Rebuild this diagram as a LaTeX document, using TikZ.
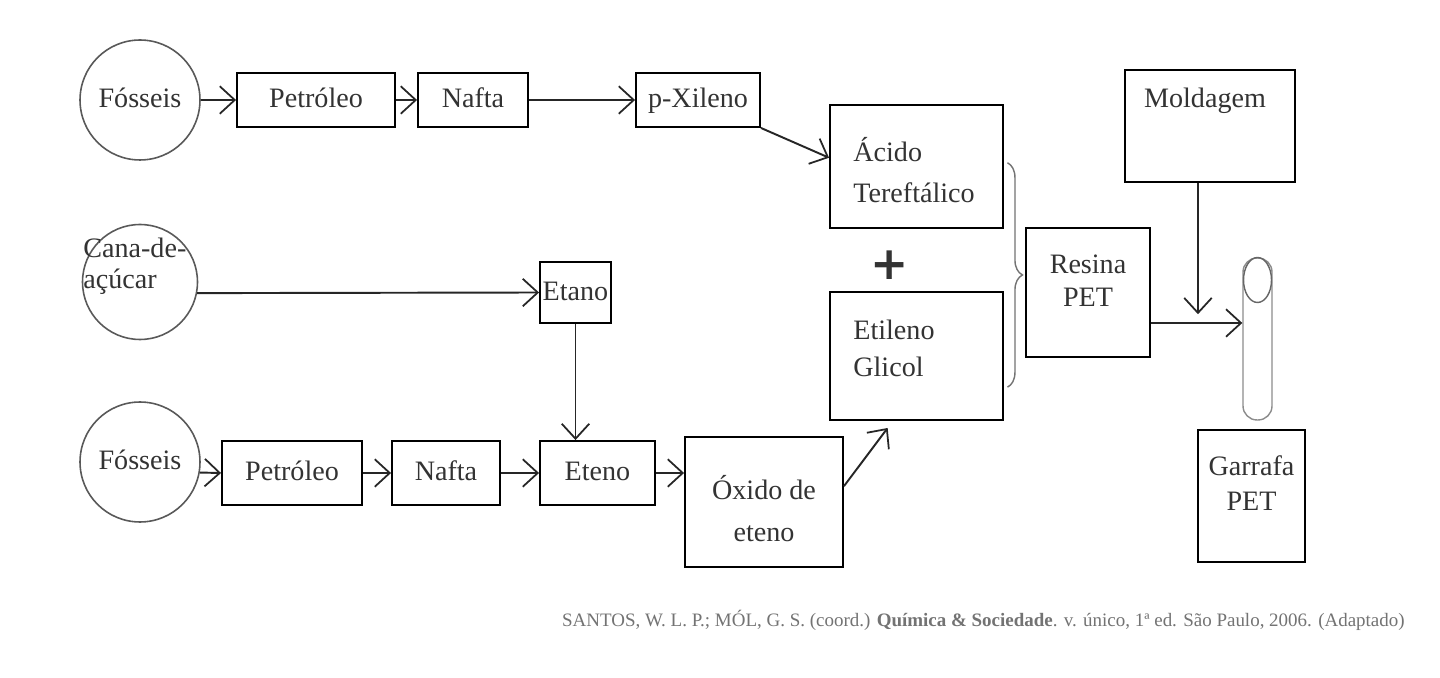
\documentclass[tikz,border=0pt]{standalone}
\usepackage{fontspec}
\setmainfont{Liberation Serif}
\newfontfamily\plusfont{DejaVu Sans}
\usetikzlibrary{arrows.meta,calc,decorations.pathreplacing,shapes.geometric}
\begin{document}
\begin{tikzpicture}[x=0.02cm,y=-0.02cm,
  box/.style={draw=black, line width=1.1pt, inner sep=0pt, font=\fontsize{16}{19}\selectfont, text=black!80, text height=2.3ex, text depth=0.4ex},
  src/.style={circle, draw=black!65, line width=0.9pt, minimum size=2.4cm, inner sep=0pt, font=\fontsize{16}{19}\selectfont, text=black!80, text height=2.3ex, text depth=0.4ex},
  lbl/.style={inner sep=0pt, font=\fontsize{16}{19}\selectfont, text=black!80},
  arr/.style={draw=black!85, line width=1.1pt, -{Straight Barb[length=3mm,width=5.5mm,line width=1pt]}}]
\useasboundingbox[fill=white] (0,0) rectangle (1440,678);
% top row
\node[src] (fos1) at (140,100) {Fósseis};
\node[box, minimum width=3.16cm, minimum height=1.08cm] (pet1) at (316,100) {Petróleo};
\node[box, minimum width=2.2cm, minimum height=1.08cm] (naf1) at (473,100) {Nafta};
\node[box, minimum width=2.48cm, minimum height=1.08cm] (pxil) at (698,100) {p-Xileno};
\draw[arr] (fos1) -- (pet1);
\draw[arr] (pet1) -- (naf1);
\draw[arr] (naf1) -- (pxil);
% acido / etileno
\node[box, minimum width=3.46cm, minimum height=2.46cm] (acido) at (916.5,166.5) {};
\node[lbl, anchor=west, align=left, font=\fontsize{16}{23}\selectfont] (acidot) at (853,170) {Ácido\\Tereftálico};
\node[inner sep=0pt, font=\plusfont\bfseries\fontsize{26}{26}\selectfont, text=black!80] (plus) at (890,265) {+};
\node[box, minimum width=3.46cm, minimum height=2.56cm] (etil) at (916.5,356) {};
\node[lbl, anchor=west, align=left, font=\fontsize{16}{21}\selectfont] (etilt) at (853,348.5) {Etileno\\Glicol};
\draw[arr] (pxil.south east) -- ($(acido.north west)!0.43!(acido.south west)$);
% resina
\node[box, minimum width=2.48cm, minimum height=2.58cm] (resina) at (1088,292.5) {};
\node[lbl, align=center, font=\fontsize{16}{19}\selectfont] (resinat) at (1088,281) {Resina\\PET};
\draw[black!55, line width=0.8pt, decorate, decoration={brace, amplitude=0.3cm}]
  ([xshift=2pt]$(acido.north east)!0.47!(acido.south east)$) -- ([xshift=2pt]$(etil.north east)!0.74!(etil.south east)$);
% moldagem, bottle, garrafa
\node[box, minimum width=3.4cm, minimum height=2.24cm] (mold) at (1210,126) {};
\node[lbl] (moldt) at (1205,101) {Moldagem};
\node[draw=black!45, line width=0.8pt, rounded corners=0.28cm, minimum width=0.58cm, minimum height=3.24cm, inner sep=0pt] (bottle) at (1257.5,339) {};
\node[ellipse, draw=black!60, line width=0.8pt, minimum width=0.56cm, minimum height=0.9cm, inner sep=0pt] (mouth) at (1257.5,280) {};
\node[box, minimum width=2.14cm, minimum height=2.64cm] (garrafa) at (1251.5,496) {};
\node[lbl, align=center, font=\fontsize{16}{20}\selectfont] (garrafat) at (1251.5,483) {Garrafa\\PET};
\coordinate (ay) at (0,323);
\coordinate (mx) at ($(mold.south west)!0.43!(mold.south east)$);
\draw[arr] (resina.east |- ay) -- (bottle.west |- ay);
\draw[arr] (mx) -- ([yshift=5pt]mx |- ay);
% middle row
\node[circle, draw=black!65, line width=0.9pt, minimum size=2.3cm, inner sep=0pt] (cana) at (140,282) {};
\node[lbl, anchor=west, align=left, font=\fontsize{16}{17.5}\selectfont] (canat) at (83,266) {Cana-de-\\açúcar};
\node[box, minimum width=1.42cm, minimum height=1.22cm] (etano) at (575.5,292.5) {Etano};
\draw[arr] (cana.-11) -- (etano.west);
% bottom row
\node[src] (fos2) at (140,462) {Fósseis};
\node[box, minimum width=2.8cm, minimum height=1.28cm] (pet2) at (292,473) {Petróleo};
\node[box, minimum width=2.16cm, minimum height=1.28cm] (naf2) at (446,473) {Nafta};
\node[box, minimum width=2.3cm, minimum height=1.28cm] (eteno) at (597.5,473) {Eteno};
\node[box, minimum width=3.16cm, minimum height=2.6cm] (oxido) at (764,502) {};
\node[lbl, align=center, font=\fontsize{16}{24}\selectfont] (oxidot) at (764,508.5) {Óxido de\\eteno};
\draw[arr] (fos2.-10) -- (pet2.west);
\draw[arr] (pet2) -- (naf2);
\draw[arr] (naf2) -- (eteno);
\draw[arr] (eteno.east) -- (oxido.west |- eteno.east);
\draw[arr] (etano.south) -- (etano.south |- eteno.north);
\draw[arr] ($(oxido.north east)!0.38!(oxido.south east)$) -- ([yshift=-4pt]$(etil.south west)!0.335!(etil.south east)$);
% source
\node[anchor=east, inner sep=0pt, font=\fontsize{10.8}{13}\selectfont, text=black!55] (cite) at (1405,620) {SANTOS, W. L. P.; MÓL, G. S. (coord.) \textbf{Química \& Sociedade}. v. único, 1ª ed. São Paulo, 2006. (Adaptado)};
\end{tikzpicture}
\end{document}
